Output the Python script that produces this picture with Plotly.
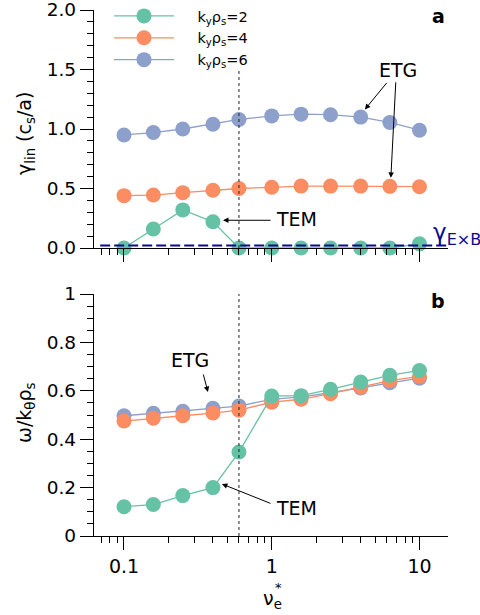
import math
import plotly.graph_objects as go

# ---------------- data ----------------
nu = [0.1, 0.158, 0.25, 0.4, 0.6, 1.0, 1.58, 2.5, 4.0, 6.3, 10.0]

gamma_k2 = [0.0, 0.16, 0.32, 0.22, 0.0, 0.0, 0.0, 0.0, 0.0, 0.0, 0.035]
gamma_k4 = [0.44, 0.445, 0.465, 0.485, 0.50, 0.51, 0.52, 0.52, 0.52, 0.518, 0.515]
gamma_k6 = [0.95, 0.97, 1.00, 1.04, 1.08, 1.11, 1.125, 1.12, 1.10, 1.055, 0.99]

omega_k2 = [0.121, 0.13, 0.167, 0.20, 0.347, 0.578, 0.58, 0.606, 0.636, 0.664, 0.684]
omega_k4 = [0.475, 0.487, 0.497, 0.508, 0.52, 0.553, 0.565, 0.588, 0.615, 0.642, 0.66]
omega_k6 = [0.497, 0.507, 0.515, 0.528, 0.537, 0.565, 0.575, 0.592, 0.612, 0.633, 0.652]

labels = ["k<sub>y</sub>ρ<sub>s</sub>=2", "k<sub>y</sub>ρ<sub>s</sub>=4", "k<sub>y</sub>ρ<sub>s</sub>=6"]
colors = ["#66c2a5", "#fc8d62", "#8da0cb"]

gamma_exb = 0.02
nu_threshold = 0.6

x_tickvals = [0.1, 1, 10]
x_ticktext = ["0.1", "1", "10"]
y1_tickvals = [0.0, 0.5, 1.0, 1.5, 2.0]
y1_ticktext = ["0.0", "0.5", "1.0", "1.5", "2.0"]
y2_tickvals = [0, 0.2, 0.4, 0.6, 0.8, 1.0]
y2_ticktext = ["0", "0.2", "0.4", "0.6", "0.8", "1"]

# ---------------- figure ----------------
W, H = 480, 615
FONT = "DejaVu Sans"
fig = go.Figure()

gammas = [gamma_k2, gamma_k4, gamma_k6]
omegas = [omega_k2, omega_k4, omega_k6]
PAD = "\u00a0" * 4

for lab, col, g in zip(labels, colors, gammas):
    fig.add_trace(go.Scatter(
        x=nu, y=g, mode="lines+markers", name=PAD + lab,
        line=dict(color=col, width=1.3),
        marker=dict(color=col, size=15),
        cliponaxis=False, xaxis="x", yaxis="y"))

for i in [2, 1, 0]:
    fig.add_trace(go.Scatter(
        x=nu, y=omegas[i], mode="lines+markers", name=labels[i], showlegend=False,
        line=dict(color=colors[i], width=1.3),
        marker=dict(color=colors[i], size=15),
        cliponaxis=False, xaxis="x2", yaxis="y2"))

xlo, xhi = -1.203, 1.193
minor_x = [m * 10 ** e for e in (-2, -1, 0, 1) for m in range(2, 10)]

xdom = [94 / W, 448 / W]
common_x = dict(type="log", range=[xlo, xhi], domain=xdom, tickvals=x_tickvals,
                ticktext=x_ticktext, ticks="outside", ticklen=13, tickwidth=1.3,
                tickcolor="black", showline=True, linecolor="black", linewidth=1.3,
                showgrid=False, zeroline=False, automargin=False,
                ticklabeloverflow="allow",
                tickfont=dict(family=FONT, size=19, color="black"),
                minor=dict(tickvals=minor_x, ticks="outside", ticklen=6,
                           tickwidth=1, tickcolor="black", showgrid=False))
common_y = dict(ticks="outside", ticklen=13, tickwidth=1.3, tickcolor="black",
                showline=True, linecolor="black", linewidth=1.3, showgrid=False,
                zeroline=False, automargin=False, ticklabeloverflow="allow",
                tickfont=dict(family=FONT, size=18.5, color="black"))

fig.update_layout(
    width=W, height=H, margin=dict(l=0, r=0, t=0, b=0, autoexpand=False),
    paper_bgcolor="white", plot_bgcolor="white",
    font=dict(family=FONT, color="black"),
    xaxis=dict(common_x, anchor="y", showticklabels=False),
    yaxis=dict(common_y, domain=[1 - 248 / H, 1 - 10 / H], range=[0, 2], anchor="x",
               tickvals=y1_tickvals, ticktext=y1_ticktext,
               minor=dict(dtick=0.1, ticks="outside", ticklen=6, tickwidth=1,
                          tickcolor="black", showgrid=False)),
    xaxis2=dict(common_x, anchor="y2", showticklabels=True),
    yaxis2=dict(common_y, domain=[1 - 536 / H, 1 - 294 / H], range=[0, 1], anchor="x2",
                tickvals=y2_tickvals, ticktext=y2_ticktext,
                minor=dict(dtick=0.05, ticks="outside", ticklen=6, tickwidth=1,
                           tickcolor="black", showgrid=False)),
    legend=dict(x=109 / W, y=1.0, xanchor="left", yanchor="top",
                bgcolor="rgba(0,0,0,0)", itemwidth=60, tracegroupgap=0,
                font=dict(family=FONT, size=14.5, color="black")),
    showlegend=True,
)

# reference lines
fig.add_shape(type="line", xref="x", yref="y", x0=0.069, x1=10 ** xhi,
              y0=gamma_exb, y1=gamma_exb,
              line=dict(color="#0b0b8c", width=2, dash="10px,4px"))
fig.add_shape(type="line", xref="x", yref="y", x0=nu_threshold, x1=nu_threshold,
              y0=0, y1=1.5, line=dict(color="#222222", width=1, dash="dot"))
fig.add_shape(type="line", xref="x2", yref="y2", x0=nu_threshold, x1=nu_threshold,
              y0=0, y1=1.0, line=dict(color="#222222", width=1, dash="dot"))

ann = []
def txt(text, px, py, size=19, xanchor="center", yanchor="middle", **kw):
    ann.append(dict(text=text, xref="paper", yref="paper", x=px / W, y=1 - py / H,
                    xanchor=xanchor, yanchor=yanchor, showarrow=False,
                    font=dict(family=FONT, size=size, color=kw.pop("color", "black")), **kw))

def arrow(xr, yr, x, y, ax, ay):
    ann.append(dict(text="", xref=xr, yref=yr, x=math.log10(x), y=y, ax=ax, ay=ay,
                    showarrow=True, arrowhead=2, arrowsize=1.1, arrowwidth=1,
                    arrowcolor="black", standoff=0, startstandoff=0))

# panel labels
txt("<b>a</b>", 438, 16, size=19)
txt("<b>b</b>", 438, 301, size=19)
# axis titles
txt("γ<sub>lin</sub> (c<sub>s</sub>/a)", 25, 134, textangle=-90)
txt("ω/k<sub>θ</sub>ρ<sub>s</sub>", 25, 413, textangle=-90)
txt("ν<sub>e</sub>", 272, 599)
txt("*", 278, 587, size=13)
# gamma ExB label
txt("γ<sub>E×B</sub>", 431, 234, size=23, xanchor="left", color="#0b0b8c")
# top annotations
txt("ETG", 398, 70)
arrow("x", "y", 4.27, 1.164, 23, -28)
arrow("x", "y", 6.4, 0.59, 5, -97)
txt("TEM", 274, 219, xanchor="left")
arrow("x", "y", 0.468, 0.233, 49, 0)
# bottom annotations
txt("ETG", 190, 360)
arrow("x2", "y2", 0.37, 0.595, -5, -19)
txt("TEM", 274, 508, xanchor="left")
arrow("x2", "y2", 0.46, 0.215, 50, 20)

fig.update_layout(annotations=ann)
fig.write_html("out.html")
